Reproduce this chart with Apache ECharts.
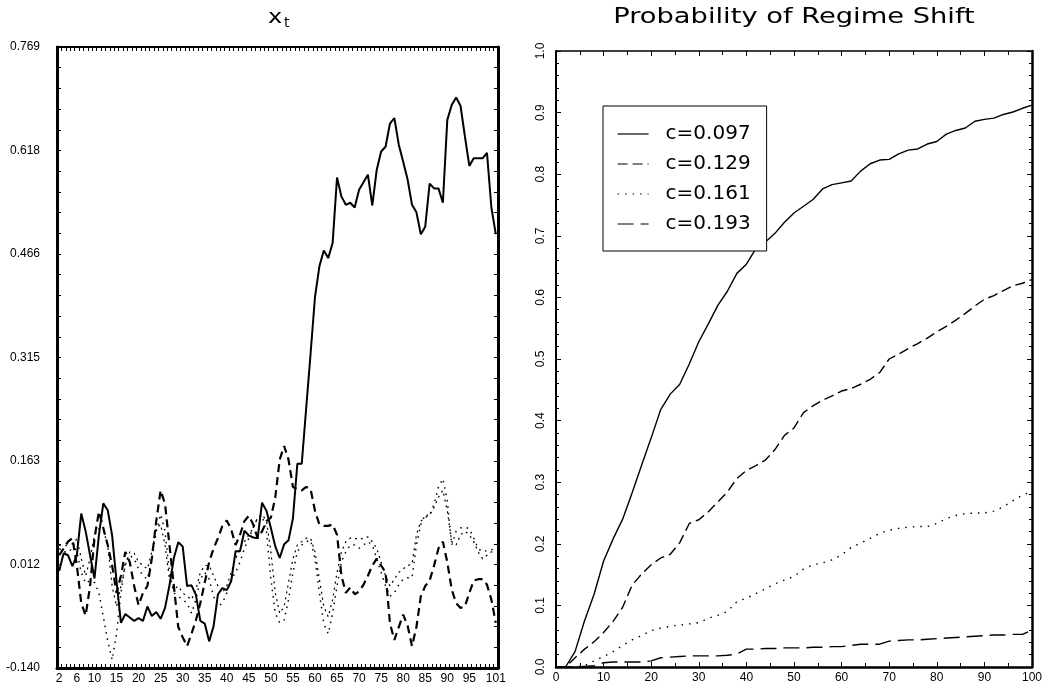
<!DOCTYPE html>
<html>
<head>
<meta charset="utf-8">
<script src="https://cdn.jsdelivr.net/npm/echarts@6/dist/echarts.min.js"></script>
<style>
html,body{margin:0;padding:0;background:#fff;}
#chart{width:1045px;height:690px;}
</style>
</head>
<body>
<div id="chart"></div>
<script>
// ---------- Left panel: x_t ----------
const leftX = [2,3,4,5,6,7,8,9,10,11,12,13,14,15,16,17,18,19,20,21,22,23,24,25,26,27,28,29,30,31,32,33,34,35,36,37,38,39,40,41,42,43,44,45,46,47,48,49,50,51,52,53,54,55,56,57,58,59,60,61,62,63,64,65,66,67,68,69,70,71,72,73,74,75,76,77,78,79,80,81,82,83,84,85,86,87,88,89,90,91,92,93,94,95,96,97,98,99,100,101];
const leftXLabels = [2,6,10,15,20,25,30,35,40,45,50,55,60,65,70,75,80,85,90,95,101];
const leftYLabels = ['-0.140','0.012','0.163','0.315','0.466','0.618','0.769'];

const xtSolid = [0.002,0.028,0.025,0.009,0.025,0.086,0.060,0.025,-0.009,0.054,
  0.101,0.091,0.054,-0.013,-0.074,-0.061,-0.066,-0.071,-0.067,-0.071,
  -0.050,-0.064,-0.058,-0.068,-0.052,-0.019,0.021,0.044,0.038,-0.020,
  -0.019,-0.033,-0.071,-0.075,-0.101,-0.079,-0.032,-0.023,-0.026,-0.013,
  0.031,0.031,0.061,0.054,0.051,0.050,0.102,0.090,0.065,0.038,
  0.021,0.041,0.047,0.079,0.159,0.159,0.240,0.320,0.403,0.448,
  0.471,0.460,0.482,0.578,0.550,0.538,0.541,0.534,0.560,0.571,
  0.582,0.537,0.589,0.616,0.623,0.657,0.665,0.626,0.601,0.575,
  0.538,0.527,0.495,0.506,0.569,0.562,0.562,0.541,0.662,0.684,
  0.695,0.683,0.638,0.595,0.606,0.606,0.606,0.614,0.534,0.495];
const xtDashed = [0.025,0.035,0.045,0.050,0.010,-0.045,-0.063,-0.020,0.050,0.089,
  0.065,0.040,0.010,-0.030,-0.005,0.030,0.015,-0.020,-0.048,-0.030,
  -0.020,0.020,0.075,0.120,0.100,0.040,-0.020,-0.080,-0.095,-0.108,
  -0.090,-0.070,-0.045,-0.015,0.015,0.035,0.050,0.068,0.076,0.063,
  0.040,0.055,0.075,0.083,0.070,0.050,0.060,0.075,0.080,0.110,
  0.165,0.185,0.165,0.125,0.122,0.120,0.125,0.122,0.090,0.070,
  0.068,0.068,0.070,0.055,-0.005,-0.030,-0.022,-0.032,-0.028,-0.018,
  -0.005,0.010,0.020,0.010,0.000,-0.075,-0.099,-0.080,-0.062,-0.078,
  -0.108,-0.080,-0.035,-0.020,-0.012,0.010,0.035,0.045,0.015,-0.025,
  -0.045,-0.052,-0.050,-0.030,-0.012,-0.010,-0.010,-0.018,-0.040,-0.074];
const xtDotted = [0.040,0.038,0.040,0.042,0.030,0.000,-0.016,-0.012,-0.015,-0.030,
  -0.065,-0.100,-0.128,-0.090,-0.030,0.015,0.025,0.020,0.005,-0.005,
  -0.010,0.020,0.060,0.085,0.060,0.000,-0.030,-0.035,-0.040,-0.045,
  -0.060,-0.040,-0.010,0.000,-0.010,-0.035,-0.050,-0.045,-0.030,-0.010,
  0.000,0.015,0.035,0.050,0.065,0.080,0.083,0.060,-0.010,-0.060,
  -0.074,-0.070,-0.040,0.000,0.030,0.040,0.045,0.047,0.020,-0.030,
  -0.075,-0.090,-0.060,-0.020,0.016,0.030,0.040,0.040,0.035,0.040,
  0.045,0.040,0.020,0.000,-0.020,-0.035,-0.030,-0.018,-0.010,-0.008,
  -0.008,0.040,0.070,0.085,0.082,0.100,0.125,0.137,0.105,0.040,
  0.060,0.065,0.066,0.064,0.050,0.035,0.030,0.032,0.033,0.035];
const xtDashDot = [0.035,0.030,0.030,0.035,0.050,0.020,-0.005,0.020,0.055,0.064,
  0.062,0.040,-0.020,-0.050,-0.020,0.010,0.030,0.028,0.015,0.010,
  0.005,0.030,0.065,0.070,0.040,-0.010,-0.025,-0.020,-0.030,-0.035,
  -0.040,-0.025,0.000,0.010,0.010,-0.005,-0.020,-0.030,-0.020,0.000,
  0.020,0.035,0.045,0.055,0.065,0.080,0.085,0.075,0.030,-0.030,
  -0.060,-0.050,-0.015,0.020,0.040,0.045,0.050,0.050,0.030,-0.010,
  -0.050,-0.065,-0.040,0.000,0.030,0.045,0.050,0.050,0.048,0.050,
  0.052,0.045,0.035,0.015,-0.005,-0.020,-0.010,0.000,0.005,0.010,
  0.012,0.055,0.075,0.080,0.085,0.095,0.110,0.120,0.090,0.045,
  0.040,0.055,0.060,0.055,0.045,0.030,0.020,0.025,0.030,0.030];

// ---------- Right panel: Probability of Regime Shift ----------
const rightX = [0,2,4,6,8,10,12,14,16,18,20,22,24,26,28,30,32,34,36,38,40,42,44,46,48,50,52,54,56,58,60,62,64,66,68,70,72,74,76,78,80,82,84,86,88,90,92,94,96,98,100];
const legendNames = ['c=0.097','c=0.129','c=0.161','c=0.193'];
const pC097 = [0,0,0.025,0.075,0.118,0.172,0.208,0.240,0.283,0.328,0.372,0.418,0.443,0.459,0.492,0.528,0.557,0.587,0.610,0.639,0.654,0.679,0.690,0.704,0.722,0.737,0.748,0.759,0.776,0.783,0.786,0.789,0.805,0.817,0.823,0.824,0.833,0.839,0.841,0.849,0.853,0.865,0.871,0.875,0.886,0.889,0.891,0.897,0.901,0.907,0.912];
const pC129 = [0,0,0.015,0.029,0.041,0.056,0.074,0.097,0.133,0.151,0.166,0.177,0.183,0.202,0.233,0.239,0.252,0.268,0.284,0.306,0.319,0.327,0.336,0.353,0.376,0.388,0.413,0.424,0.433,0.440,0.448,0.452,0.459,0.467,0.478,0.500,0.508,0.517,0.525,0.534,0.544,0.553,0.563,0.574,0.586,0.597,0.603,0.611,0.619,0.623,0.629];
const pC161 = [0,0,0,0.002,0.010,0.017,0.025,0.035,0.044,0.051,0.059,0.063,0.066,0.068,0.070,0.072,0.079,0.084,0.090,0.106,0.112,0.119,0.127,0.135,0.141,0.147,0.159,0.166,0.169,0.174,0.182,0.194,0.201,0.209,0.217,0.222,0.225,0.227,0.228,0.228,0.233,0.241,0.246,0.249,0.250,0.250,0.253,0.260,0.270,0.279,0.285];
const pC193 = [0,0,0,0.001,0.002,0.007,0.008,0.008,0.008,0.008,0.010,0.015,0.016,0.017,0.018,0.018,0.018,0.018,0.019,0.021,0.029,0.029,0.030,0.030,0.031,0.031,0.031,0.032,0.032,0.033,0.033,0.035,0.037,0.037,0.037,0.042,0.043,0.044,0.044,0.045,0.046,0.047,0.048,0.049,0.050,0.051,0.052,0.052,0.053,0.053,0.060];

const BLACK = '#000';
const FONT = 'Liberation Sans';
const pairs = (xs, ys) => xs.map((x, i) => [x, ys[i]]);
const yMinL = -0.140, yMaxL = 0.769, yStepL = 0.1515;

function leftYAxis(pos, showLabel, lineW) {
  return {
    type: 'value', gridIndex: 0, position: pos,
    min: yMinL, max: yMaxL, interval: yStepL,
    axisLine: {show: true, onZero: false, lineStyle: {color: BLACK, width: lineW}},
    axisTick: {show: true, inside: true, length: 4, lineStyle: {color: BLACK, width: 1}},
    minorTick: {show: true, splitNumber: 5, length: 4, lineStyle: {color: BLACK, width: 1}},
    splitLine: {show: false},
    axisLabel: {
      show: showLabel, margin: 17, fontSize: 12, fontFamily: FONT, color: BLACK,
      formatter: v => leftYLabels[Math.round((v - yMinL) / yStepL)] || ''
    }
  };
}
function leftXAxis(pos, showLabel, lineW) {
  return {
    type: 'category', gridIndex: 0, position: pos, data: leftX, boundaryGap: true,
    axisLine: {show: true, onZero: false, lineStyle: {color: BLACK, width: lineW}},
    axisTick: {show: true, inside: true, interval: 0, length: 4, lineStyle: {color: BLACK, width: 1}},
    splitLine: {show: false},
    axisLabel: {
      show: showLabel, interval: (i, v) => leftXLabels.indexOf(Number(v)) >= 0,
      margin: 5, fontSize: 12, fontFamily: FONT, color: BLACK
    }
  };
}
function rightYAxis(pos, showLabel, lineW) {
  return {
    type: 'value', gridIndex: 1, position: pos, min: 0, max: 1, interval: 0.1,
    axisLine: {show: true, onZero: false, lineStyle: {color: BLACK, width: lineW}},
    axisTick: {show: true, inside: true, length: 5, lineStyle: {color: BLACK, width: 1}},
    minorTick: {show: true, splitNumber: 5, length: 3, lineStyle: {color: BLACK, width: 1}},
    splitLine: {show: false},
    axisLabel: {show: showLabel, rotate: 90, margin: 9, fontSize: 12, fontFamily: FONT, color: BLACK,
      formatter: v => v.toFixed(1)}
  };
}
function rightXAxis(pos, showLabel, lineW) {
  return {
    type: 'value', gridIndex: 1, position: pos, min: 0, max: 100, interval: 10,
    axisLine: {show: true, onZero: false, lineStyle: {color: BLACK, width: lineW}},
    axisTick: {show: true, inside: true, length: 5, lineStyle: {color: BLACK, width: 1}},
    minorTick: {show: true, splitNumber: 2, length: 4, lineStyle: {color: BLACK, width: 1}},
    splitLine: {show: false},
    axisLabel: {show: showLabel, margin: 5, fontSize: 12, fontFamily: FONT, color: BLACK}
  };
}
function lineSeries(name, xi, yi, data, width, type) {
  return {
    name: name, type: 'line', xAxisIndex: xi, yAxisIndex: yi, data: data,
    symbol: 'none', showSymbol: false, smooth: false, silent: true,
    lineStyle: {color: BLACK, width: width, type: type},
    itemStyle: {color: BLACK}
  };
}

const chart = echarts.init(document.getElementById('chart'), null, {renderer: 'canvas'});
chart.setOption({
  animation: false,
  backgroundColor: '#fff',
  grid: [
    {left: 57, top: 47, width: 441, height: 621},
    {left: 556, top: 51, width: 476, height: 616}
  ],
  xAxis: [
    leftXAxis('bottom', true, 3),
    leftXAxis('top', false, 2),
    rightXAxis('bottom', true, 2.5),
    rightXAxis('top', false, 1.5)
  ],
  yAxis: [
    leftYAxis('left', true, 3),
    leftYAxis('right', false, 3),
    rightYAxis('left', true, 2),
    rightYAxis('right', false, 2.5)
  ],
  legend: {
    data: legendNames, orient: 'vertical', left: 603, top: 106,
    padding: [18, 16, 17, 14], itemWidth: 31, itemHeight: 14, itemGap: 10,
    borderColor: BLACK, borderWidth: 1, backgroundColor: '#fff',
    selectedMode: false,
    itemStyle: {opacity: 0, borderWidth: 0},
    lineStyle: {width: 1.2},
    textStyle: {fontSize: 20, fontFamily: 'DejaVu Sans', color: BLACK, lineHeight: 14, padding: [0, 0, 0, 12]}
  },
  graphic: [
    {type: 'text', x: 275, y: 18, scaleX: 1.2,
     style: {text: 'x', font: '20px "DejaVu Sans"', fill: BLACK, textAlign: 'center', textVerticalAlign: 'middle'}},
    {type: 'text', x: 284, y: 23,
     style: {text: 't', font: '14px "DejaVu Sans"', fill: BLACK, textAlign: 'left', textVerticalAlign: 'middle'}},
    {type: 'text', x: 794, y: 18, scaleX: 1.3,
     style: {text: 'Probability of Regime Shift', font: '21px "DejaVu Sans"', fill: BLACK, textAlign: 'center', textVerticalAlign: 'middle'}}
  ],
  series: [
    lineSeries('x_t solid', 0, 0, xtSolid, 2, 'solid'),
    lineSeries('x_t dashed', 0, 0, xtDashed, 2.2, [8, 5]),
    lineSeries('x_t dotted', 0, 0, xtDotted, 1.5, [1.5, 5]),
    lineSeries('x_t dash-dot', 0, 0, xtDashDot, 1.2, [2, 4]),
    lineSeries(legendNames[0], 2, 2, pairs(rightX, pC097), 1.4, 'solid'),
    lineSeries(legendNames[1], 2, 2, pairs(rightX, pC129), 1.4, [10, 5]),
    lineSeries(legendNames[2], 2, 2, pairs(rightX, pC161), 1.4, [1.5, 6]),
    lineSeries(legendNames[3], 2, 2, pairs(rightX, pC193), 1.4, [16, 7])
  ]
});
</script>
</body>
</html>
